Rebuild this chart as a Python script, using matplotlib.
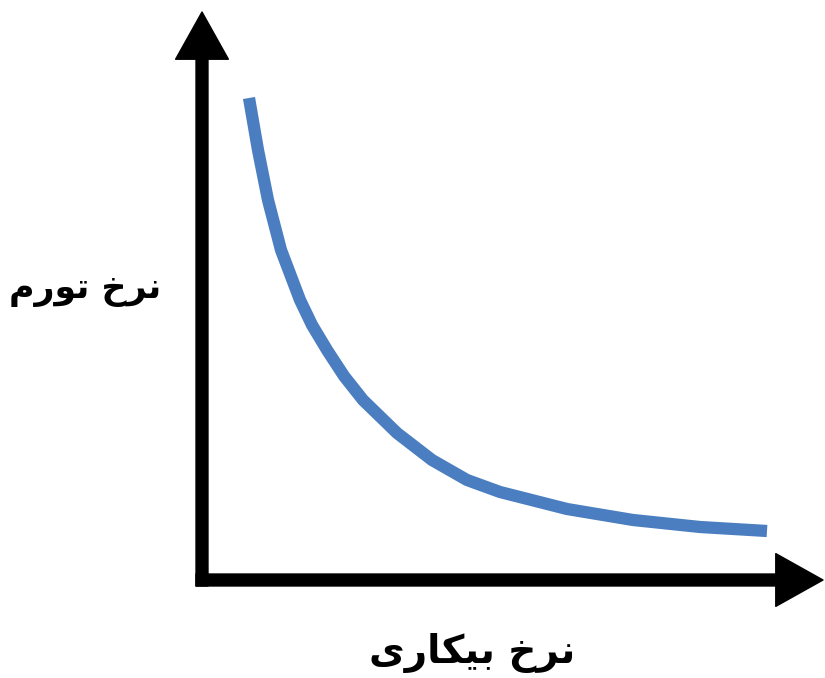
import numpy as np
import matplotlib
matplotlib.use("Agg")
import matplotlib.pyplot as plt

# منحنی فیلیپس: نرخ بیکاری در برابر نرخ تورم (واحدهای دلخواه)
unemployment = [4.7, 5.6, 6.6, 7.9, 9.8, 11.0, 12.5, 14.2, 16.1, 19.5,
                23.0, 26.5, 29.8, 36.5, 43.1, 49.8, 56.5]
inflation = [48.2, 43.0, 38.0, 33.0, 28.0, 25.5, 23.0, 20.4, 18.0, 14.7,
             12.0, 10.0, 8.8, 7.1, 6.0, 5.3, 4.9]

# برچسب ها با شکل های نمایشی عربی (ترتیب دیداری)
y_label = "\uFEE1\uFEAD\uFEEE\uFE97 \uFEA5\uFEAE\uFEE7"          # نرخ تورم
x_label = "\uFEEF\uFEAD\uFE8E\uFEDC\uFEF4\uFE91 \uFEA5\uFEAE\uFEE7"  # نرخ بیکاری

plt.rcParams['font.family'] = ['DejaVu Sans']

fig = plt.figure(figsize=(8.25, 6.78), dpi=100)
ax = fig.add_axes([202 / 825, 98 / 678, 623 / 825, 580 / 678])
ax.set_xlim(0, 62.3)
ax.set_ylim(0, 58)
ax.axis("off")

ax.plot(unemployment, inflation, color="#4a7ec0", linewidth=8.8,
        solid_capstyle="butt", solid_joinstyle="round")

arrow_style = "simple,head_length=3.4,head_width=3.8,tail_width=0.86"
# محور عمودی
ax.annotate("", xy=(0, 56.8), xytext=(0, -0.6),
            arrowprops=dict(arrowstyle=arrow_style, mutation_scale=10,
                            color="black", shrinkA=0, shrinkB=0),
            annotation_clip=False)
# محور افقی
ax.annotate("", xy=(62.1, 0), xytext=(-0.6, 0),
            arrowprops=dict(arrowstyle=arrow_style, mutation_scale=10,
                            color="black", shrinkA=0, shrinkB=0),
            annotation_clip=False)

fig.text(85 / 825, 1 - 290 / 678, y_label, fontsize=25, fontweight="bold",
         ha="center", va="center")
fig.text(472 / 825, 1 - 653 / 678, x_label, fontsize=28, fontweight="bold",
         ha="center", va="center")

fig.savefig("out.png", dpi=100)
